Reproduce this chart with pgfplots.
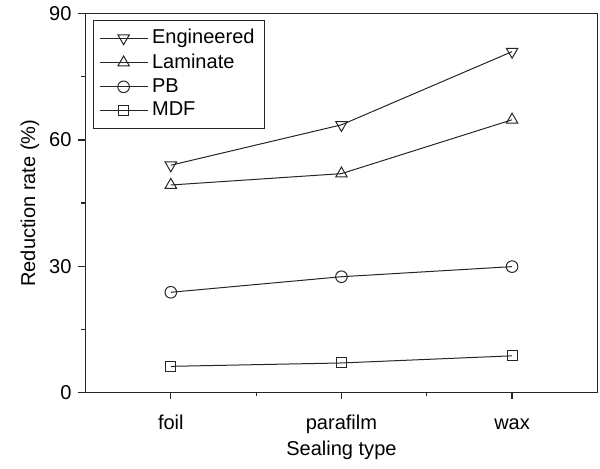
\documentclass[border=0pt]{standalone}
\usepackage{pgfplots}
\pgfplotsset{compat=1.18}
\usepackage{fontspec}
\setmainfont{Liberation Sans}

\begin{document}
\begin{tikzpicture}
  \begin{axis}[
    scale only axis,
    width=255.5pt, height=189pt,
    xmin=-0.5, xmax=2.5,
    ymin=0, ymax=90,
    xtick={0,1,2},
    xticklabels={foil,parafilm,wax},
    minor xtick={0.5,1.5},
    ytick={0,30,60,90},
    minor ytick={15,45,75},
    xtick pos=left, ytick pos=left,
    tick align=outside,
    major tick length=3.5pt,
    minor tick length=2pt,
    /pgf/number format/assume math mode=true,
    xlabel={Sealing type},
    ylabel={Reduction rate (\%)},
    xticklabel style={yshift=-3pt, text height=1.6ex, text depth=0.4ex},
    xlabel style={yshift=3pt},
    ylabel style={yshift=-2pt},
    axis line style={line width=0.6pt, black!85},
    every tick/.style={line width=0.6pt, black!85},
    legend style={at={(rel axis cs:0.014,0.984)}, anchor=north west,
      draw=black!85, line width=0.5pt, font=\normalsize,
      inner xsep=3pt, inner ysep=2.5pt, row sep=-0.5pt},
    legend cell align=left,
    legend image code/.code={
      \draw[mark repeat=2, mark phase=2]
        plot coordinates {(0cm,0cm) (0.42cm,0cm) (0.84cm,0cm)};
    },
  ]
    % Engineered
    \addplot[black!85, line width=0.5pt, mark=triangle, mark size=3.3pt,
      mark options={rotate=180, solid, fill=white}]
      coordinates {(0,54.0) (1,63.6) (2,81.0)};
    \addlegendentry{Engineered}
    % Laminate
    \addplot[black!85, line width=0.5pt, mark=triangle, mark size=3.3pt,
      mark options={solid, fill=white}]
      coordinates {(0,49.3) (1,52.0) (2,64.8)};
    \addlegendentry{Laminate}
    % PB
    \addplot[black!85, line width=0.5pt, mark=o, mark size=2.9pt,
      mark options={solid, fill=white}]
      coordinates {(0,23.8) (1,27.5) (2,29.9)};
    \addlegendentry{PB}
    % MDF
    \addplot[black!85, line width=0.5pt, mark=square, mark size=2.5pt,
      mark options={solid, fill=white}]
      coordinates {(0,6.2) (1,7.0) (2,8.7)};
    \addlegendentry{MDF}
  \end{axis}
  \path (current bounding box.south west) ++(-7pt,-1pt);
  \path (current bounding box.north east) ++(1pt,0pt);
\end{tikzpicture}
\end{document}
